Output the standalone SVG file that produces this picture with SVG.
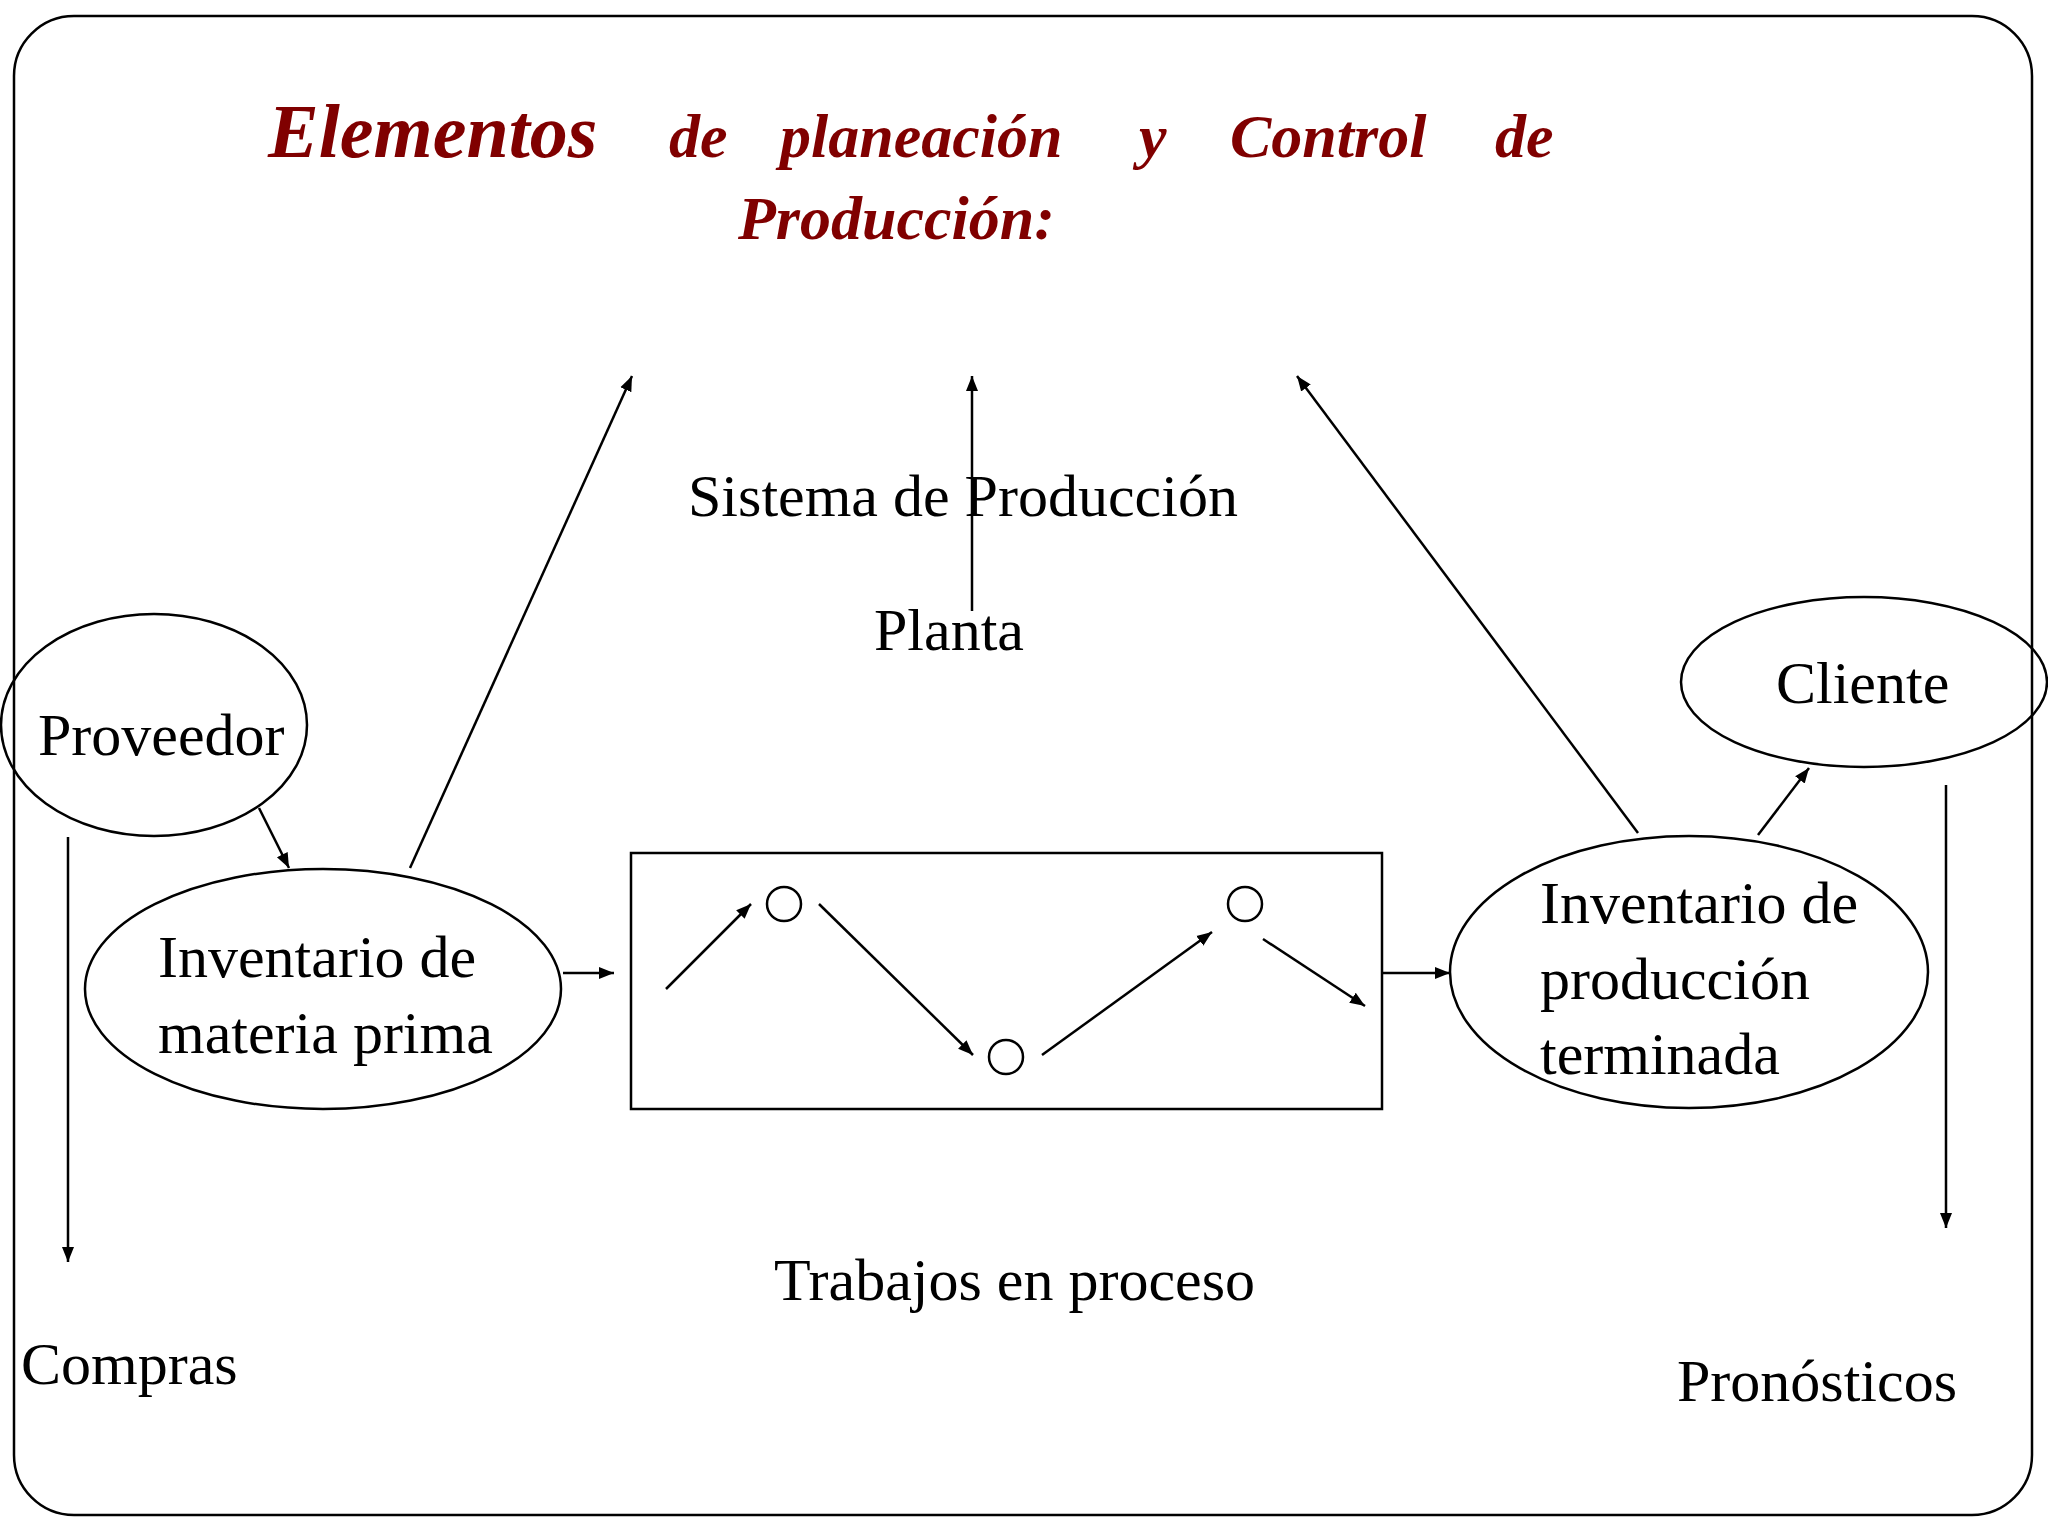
<svg xmlns="http://www.w3.org/2000/svg" width="2048" height="1536" viewBox="0 0 2048 1536">
<style>
.t{font-family:"Liberation Serif",serif;font-size:60px;fill:#000}
.h{font-family:"Liberation Serif",serif;font-weight:bold;font-style:italic;fill:#800000;font-size:62px}
.s{fill:none;stroke:#000;stroke-width:2.5}
.c line{stroke:#000;stroke-width:2.5;marker-end:url(#a)}
</style>
<defs><marker id="a" viewBox="0 0 10 10" refX="10" refY="5" markerWidth="6" markerHeight="6" orient="auto" markerUnits="strokeWidth"><path d="M0,1 L10,5 L0,9 z" fill="#000"/></marker></defs>
<rect x="0" y="0" width="2048" height="1536" fill="#fff"/>
<rect x="14" y="16" width="2018" height="1499" rx="60" class="s"/>
<g id="title">
<text class="h" x="268" y="157" style="font-size:76px">Elementos</text>
<text class="h" x="669" y="157">de</text>
<text class="h" x="780" y="157">planeación</text>
<text class="h" x="1139" y="157">y</text>
<text class="h" x="1230" y="157">Control</text>
<text class="h" x="1495" y="157">de</text>
<text class="h" x="738" y="239">Producción:</text>
</g>
<g id="sistema"><text class="t" x="688" y="516">Sistema de Producción</text></g>
<g id="planta"><text class="t" x="874" y="650">Planta</text></g>
<g id="proveedor"><ellipse cx="154" cy="725" rx="153" ry="111" class="s"/><text class="t" x="38" y="755">Proveedor</text></g>
<g id="inv-mp"><ellipse cx="323" cy="989" rx="238" ry="120" class="s"/><text class="t" x="158" y="977">Inventario de</text><text class="t" x="158" y="1053">materia prima</text></g>
<g id="proceso"><rect x="631" y="853" width="751" height="256" class="s"/>
<circle cx="784" cy="904" r="17" class="s"/><circle cx="1006" cy="1057" r="17" class="s"/><circle cx="1245" cy="904" r="17" class="s"/></g>
<g id="trabajos"><text class="t" x="774" y="1300">Trabajos en proceso</text></g>
<g id="inv-pt"><ellipse cx="1689" cy="972" rx="239" ry="136" class="s"/><text class="t" x="1540" y="923">Inventario de</text><text class="t" x="1540" y="999">producción</text><text class="t" x="1540" y="1074">terminada</text></g>
<g id="cliente"><ellipse cx="1864" cy="682" rx="183" ry="85" class="s"/><text class="t" x="1776" y="703">Cliente</text></g>
<g id="compras"><text class="t" x="21" y="1384">Compras</text></g>
<g id="pronosticos"><text class="t" x="1677" y="1401">Pronósticos</text></g>
<g class="c" id="connectors">
<line x1="666" y1="989" x2="751" y2="904"/>
<line x1="819" y1="904" x2="973" y2="1055"/>
<line x1="1042" y1="1055" x2="1212" y2="932"/>
<line x1="1263" y1="939" x2="1365" y2="1006"/>
<line x1="563" y1="973" x2="614" y2="973"/>
<line x1="1382" y1="973" x2="1450" y2="973"/>
<line x1="1758" y1="835" x2="1809" y2="768"/>
<line x1="1638" y1="833" x2="1297" y2="376"/>
<line x1="972" y1="611" x2="972" y2="376"/>
<line x1="410" y1="868" x2="632" y2="376"/>
<line x1="259" y1="808" x2="289" y2="868"/>
<line x1="68" y1="837" x2="68" y2="1262"/>
<line x1="1946" y1="785" x2="1946" y2="1228"/>
</g>
</svg>
